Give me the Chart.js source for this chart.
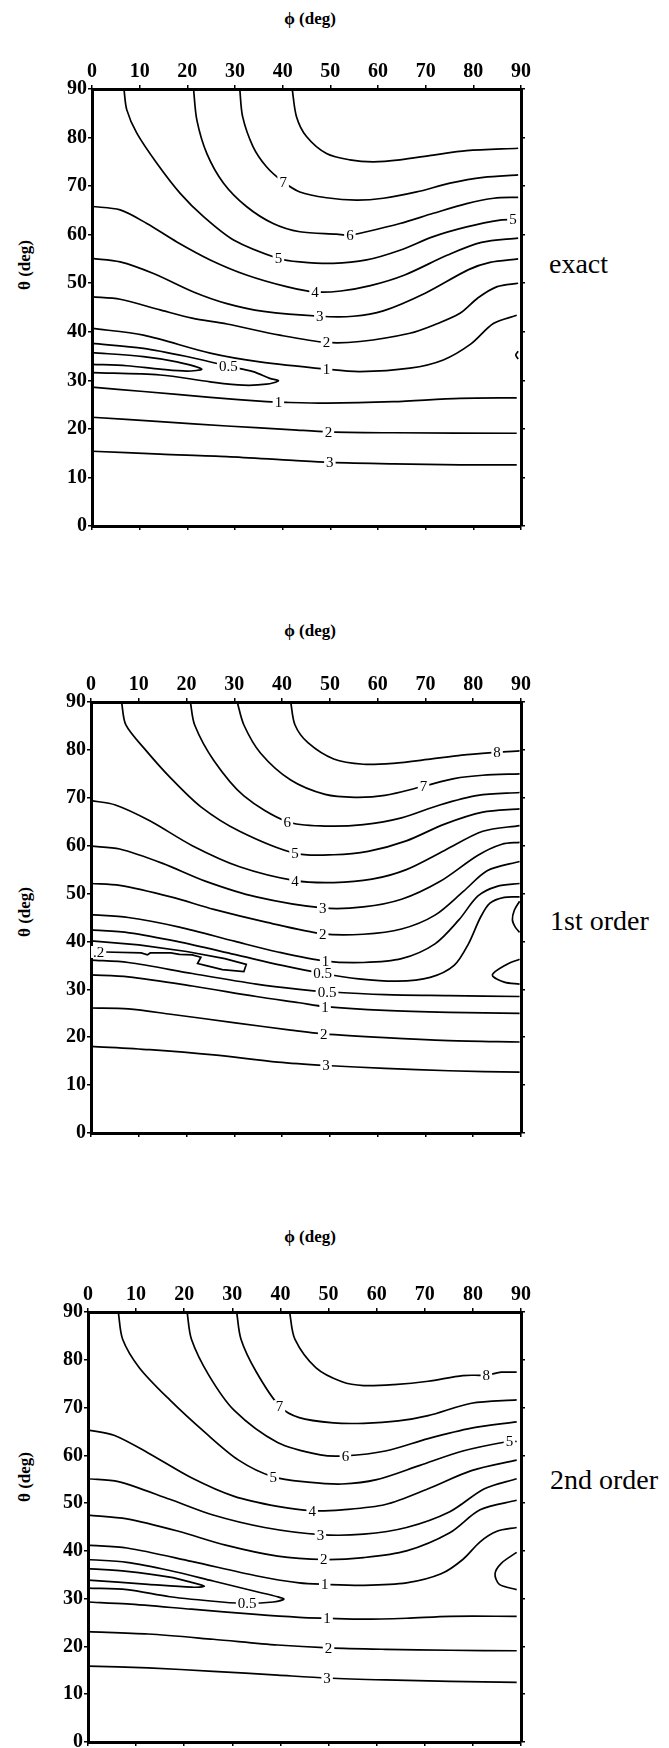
<!DOCTYPE html>
<html>
<head>
<meta charset="utf-8">
<script src="https://cdn.jsdelivr.net/npm/chart.js@4.4.1/dist/chart.umd.min.js"></script>
<style>
    body { margin: 0; background: #fff; width: 669px; height: 1748px; overflow: hidden; position: relative; font-family: 'Liberation Serif', serif; }
    canvas { position: absolute; left: 0; }
    .phi { position: absolute; width: 120px; margin-left: -60px; text-align: center; font-size: 17px; font-weight: bold; }
    .theta { position: absolute; width: 80px; margin-left: -40px; margin-top: -10px; text-align: center; font-size: 17px; font-weight: bold; transform: rotate(-90deg); }
    .side { position: absolute; font-size: 28px; line-height: 28px; margin-top: -14px; }
</style>
</head>
<body>

<div class="phi" style="left:310px;top:9px">ϕ (deg)</div>
<div class="theta" style="left:25px;top:265px">θ (deg)</div>
<div class="side" style="left:549px;top:264px">exact</div>
<canvas id="exact" width="669" height="491" style="top:49px"></canvas>

<div class="phi" style="left:310px;top:621px">ϕ (deg)</div>
<div class="theta" style="left:25px;top:912px">θ (deg)</div>
<div class="side" style="left:550px;top:921px">1st order</div>
<canvas id="first" width="669" height="485" style="top:662px"></canvas>

<div class="phi" style="left:310px;top:1227px">ϕ (deg)</div>
<div class="theta" style="left:25px;top:1477px">θ (deg)</div>
<div class="side" style="left:550px;top:1480px">2nd order</div>
<canvas id="second" width="669" height="484" style="top:1272px"></canvas>

<script>
    // tick values (deg)
    const phiTicks = [0, 10, 20, 30, 40, 50, 60, 70, 80, 90];
    const thetaTicks = [0, 10, 20, 30, 40, 50, 60, 70, 80, 90];

    // ---- exact : contour lines [phi, theta] ----
    const ex8 = [[42,90],[42.9,84.3],[45,80.2],[49.2,76.7],[54.1,75.4],[59,75],[64.6,75.4],[71.6,76.4],[78.6,77.3],[89.4,77.8]];
    const ex7 = [[31,90],[31.6,84.3],[33.8,78.1],[36.6,74],[40.1,70.9],[43.6,68.8],[49.2,67.6],[55.5,67.1],[61.1,67.5],[68.1,68.8],[75.1,70.6],[82.1,71.8],[89.4,72.3]];
    const ex6 = [[21.3,90],[22,83.6],[24.1,76.7],[27.6,70.6],[32.4,65.8],[38,62.3],[43.6,60.6],[51.3,60.1],[54.1,59.9],[57.6,60.6],[64.6,62.3],[71.6,64.4],[78.6,66.4],[84.3,67.5],[89.4,67.7]];
    const ex5 = [[6.7,90],[7.3,85.7],[9.4,80.9],[13.6,74.7],[18.5,68.5],[23.4,63.7],[29.7,58.9],[39.1,55.1],[43.6,54.4],[50.6,54.1],[57.6,54.8],[64.6,56.8],[71.6,59.6],[78.6,61.6],[85.6,63],[89.4,63.2]];
    const ex4 = [[0,65.8],[5.9,65.1],[11.5,62.3],[17.8,58.5],[24.8,54.8],[32.4,51.7],[40.8,49.3],[46.8,48.2],[52.2,48.4],[58.4,49.5],[65.6,51.7],[74.6,55.8],[81.7,58.4],[89.4,59.3]];
    const ex3 = [[0,55.1],[5.9,54.4],[12.9,52],[21.3,48.2],[28.3,45.8],[36,44.2],[47.8,43.2],[54.8,43.2],[61.1,44.3],[70,48],[79,52.8],[83.5,54.3],[89.4,55]];
    const ex2 = [[0,47.2],[5.9,46.7],[14.3,44.5],[21,42.8],[28.3,41.6],[39.4,39.3],[49.2,37.8],[56.2,38],[66.7,39.7],[72,41.5],[77.2,43.8],[81,47],[85,49.3],[89.4,50]];
    const ex1 = [[0,40.7],[10.8,39.3],[24.8,35.6],[35.2,33.8],[49.2,32.3],[56.2,31.8],[66.7,32.5],[73.7,34.2],[79.5,37.5],[84.2,41.7],[89.1,43.4]];
    const ex05 = [[0,37.6],[10.8,36.6],[19.9,34.9],[28.6,32.9],[33.8,31.8],[37.3,30.4],[39.1,29.9],[36.6,29.2],[31.7,29],[24.8,29.7],[14.3,31.1],[0,31.6]];
    const exIn = [[0,35.7],[10.8,34.9],[17.8,33.8],[23,32.3],[19.9,31.9],[14.3,32.3],[7.3,33],[0,33.3]];
    const exFrag = [[89.4,36],[88.9,35.2],[89.4,34.4]];
    const ex1b = [[0,28.6],[10.8,27.7],[24.8,26.5],[36.6,25.6],[39.1,25.5],[49.2,25.3],[63.2,25.6],[77.2,26.3],[89.1,26.4]];
    const ex2b = [[0,22.4],[14.3,21.5],[28.3,20.6],[42.2,19.8],[49.6,19.4],[63.2,19.2],[89.1,19.1]];
    const ex3b = [[0,15.4],[14.3,14.8],[28.3,14.3],[42.2,13.5],[49.9,13.1],[63.2,12.8],[77.2,12.6],[89.1,12.6]];
    const exLabels = [['7',40.1,70.9],['6',54.1,59.9],['5',39.1,55.1],['5',88.3,63.2],['4',46.8,48.2],['3',47.8,43.2],['2',49.2,37.8],['1',49.2,32.3],['0.5',28.6,32.9],['1',39.1,25.5],['2',49.6,19.4],['3',49.9,13.1]];

    // ---- 1st order ----
    const fo8 = [[41.8,90],[42.7,85.2],[45.4,81.5],[50.8,78.1],[57,77],[63.3,77.2],[70.5,78],[77.6,78.9],[85,79.5],[89.7,79.8]];
    const fo7 = [[30.6,90],[32,85.2],[35.5,79.3],[41.8,73.7],[49,70.7],[55.2,70.1],[61.5,70.5],[69.6,72.4],[76,74],[82,74.7],[89.7,75]];
    const fo6 = [[20.8,90],[21.7,85.2],[25.7,77.8],[32,70.4],[41.1,65],[49,64.1],[57,64.4],[65,65.8],[73,68.5],[81,70.5],[89.7,71.1]];
    const fo5 = [[6.4,90],[7.3,85.2],[11.4,80],[16.7,74.1],[23,68.1],[31.1,63],[42.7,58.4],[50.8,58.1],[58,58.8],[66,61],[74,64.5],[82,67],[89.7,67.7]];
    const fo4 = [[0,69.4],[5.1,68.5],[12.3,65.2],[21.2,60],[31.1,55.6],[42.7,52.7],[50.8,52.3],[58.8,53],[66,55],[74,59],[82,63],[89.7,64.2]];
    const fo3 = [[0,59.9],[6,59.3],[15,56.3],[23.9,52.6],[34.6,49.3],[48.5,47],[57,47.2],[65,48.8],[73,52.5],[81,58],[86,60.3],[89.7,60.7]];
    const fo2 = [[0,52.1],[6,51.7],[16.7,49.3],[25.7,46.7],[36.4,44.1],[48.5,41.6],[57,41.5],[65,42.6],[72,45.5],[78,50.5],[83,54.8],[89.7,56.7]];
    const fo1 = [[0,45.6],[7.8,45],[18.5,43],[30.2,40],[39.1,37.8],[49.1,35.9],[57,35.6],[65,36.4],[72,39.5],[77,44.5],[81,49.5],[85,51.5],[89.7,52.1]];
    const fo05 = [[0,42.4],[8,41.8],[18,40],[30,37.3],[40,35],[48.5,33.3],[56,32.2],[64,31.7],[71,32.5],[76,35],[79,39.5],[81.5,45],[83.5,48],[86.5,49.2],[89.7,49.3]];
    const fo02 = [[0,40.1],[10,39.3],[20,37.9],[28,36.4],[32.5,35.2],[32,33.7],[27.5,34.1],[23.9,35],[22.3,35.4],[23,36.7],[21.2,37.2],[18.5,37.3],[16.7,37.6],[12.4,37.6],[11.8,37.2],[10.5,37.6],[2.9,37.8],[0,37.8]];
    const foR1 = [[89.7,48.4],[88.6,46.5],[88.2,44.5],[88.8,43],[89.7,41.9]];
    const foR2 = [[89.7,36.3],[87,35.2],[84,33],[86.5,31.5],[89.7,31.1]];
    const fo05b = [[0,36.1],[7.8,35.6],[21.2,33.3],[34.6,31.1],[43.6,30],[49.4,29.5],[61.5,28.9],[74.9,28.7],[89.7,28.5]];
    const fo1b = [[0,33],[7.8,32.6],[21.2,30.7],[34.6,28.5],[43.6,27.2],[49,26.4],[61.5,25.6],[74.9,25.2],[89.7,25]];
    const fo2b = [[0,26.1],[7.8,25.9],[16.7,24.8],[30.2,23],[41.8,21.5],[48.7,20.7],[61.5,19.9],[74.9,19.3],[89.7,19]];
    const fo3b = [[0,18.1],[12.3,17.4],[25.7,16.3],[39.1,14.8],[49.2,14.1],[61.5,13.5],[74.9,13],[89.7,12.7]];
    const foLabels = [['8',85,79.5],['7',69.6,72.4],['6',41.1,65],['5',42.7,58.4],['4',42.7,52.7],['3',48.5,47],['2',48.5,41.6],['1',49.1,35.9],['0.5',48.5,33.3],['0.5',49.4,29.5],['1',49,26.4],['2',48.7,20.7],['3',49.2,14.1],['.2',1.6,37.8]];

    // ---- 2nd order ----
    const so8 = [[41.9,90],[43,84.3],[47.4,78.3],[52.8,75.4],[57.3,74.6],[63.6,74.8],[70.7,75.5],[77.9,76.7],[82.8,76.8],[85.9,77.4],[89.1,77.4]];
    const so7 = [[30.9,90],[31.8,84.3],[34.9,77.6],[39.8,70.3],[43.9,67.9],[51,66.8],[57.3,66.7],[64.5,67.2],[70.7,68.3],[79.7,70.9],[89.1,71.6]];
    const so6 = [[20.6,90],[21.5,84.3],[25.1,76.8],[30.4,69.4],[39.4,62.7],[48.3,60.1],[53.5,59.9],[61.8,60.9],[70.7,63.5],[79.7,65.7],[89.1,67]];
    const so5 = [[6.3,90],[7.2,84.3],[10.7,78.3],[17,71.6],[24.2,64.9],[31.3,59],[38.5,55.5],[45.7,54.4],[52.8,54],[60,54.9],[69,57.9],[77.9,60.9],[87.3,62.9],[89.1,62.9]];
    const so4 = [[0,65.3],[5.4,64.2],[12.5,60.5],[21.5,55.3],[30.4,51.4],[39.4,49.3],[46.6,48.4],[52.8,48.6],[61.8,49.7],[70.7,53],[79.7,56.8],[89.1,59]];
    const so3 = [[0,55.1],[6.3,54.5],[17,50.8],[26,47.5],[36.7,44.9],[48.3,43.4],[57.3,43.5],[66.2,44.9],[75.2,48.2],[82.4,53],[89.1,55.1]];
    const so2 = [[0,47.5],[8.1,46.7],[18.8,44.1],[28.6,41.2],[39.4,38.9],[49,38.2],[57.3,38.6],[66.2,40],[75.2,43.8],[81.5,48.6],[89.1,50.6]];
    const so1 = [[0,41.2],[8.1,40.6],[21.5,37.8],[34.9,34.8],[43.9,33.3],[49.2,33],[57.3,32.8],[66.2,33.3],[73.4,35.2],[77.9,38.2],[81.5,41.9],[85,44.1],[89.1,44.9]];
    const soR = [[89.1,39.7],[85.9,37.4],[84.6,35.2],[85.5,33],[89.1,31.9]];
    const so05 = [[0,38.2],[8.1,37.6],[17,35.9],[26,33.7],[34.9,31.5],[39.4,30.4],[40.7,29.9],[38.5,29.3],[33.1,29],[27.8,29.3],[17,30.4],[8.1,31.9],[0,32.2]];
    const soIn = [[0,36.3],[8.1,35.7],[17,34.5],[21.5,33.4],[24.2,32.6],[21.5,32.4],[12.5,33],[0,33.9]];
    const so1b = [[0,29.3],[8.1,28.9],[21.5,27.8],[34.9,26.7],[43.9,26.1],[49.7,25.9],[57.3,25.7],[66.2,25.9],[75.2,26.3],[89.1,26.3]];
    const so2b = [[0,23.1],[12.5,22.6],[26,21.5],[39.4,20.3],[50,19.7],[61.8,19.4],[75.2,19.2],[89.1,19.1]];
    const so3b = [[0,15.9],[12.5,15.5],[26,14.8],[39.4,14],[49.7,13.4],[61.8,13],[75.2,12.7],[89.1,12.5]];
    const soLabels = [['8',82.8,76.8],['7',39.8,70.3],['6',53.5,59.9],['5',38.5,55.5],['5',87.6,62.9],['4',46.6,48.4],['3',48.3,43.4],['2',49,38.2],['1',49.2,33],['0.5',33.1,29],['1',49.7,25.9],['2',50,19.7],['3',49.7,13.4]];

    // numbers written on the contour lines
    const contourLabels = {
        id: 'contourLabels',
        afterDatasetsDraw(chart, args, opts) {
            const ctx = chart.ctx;
            const xs = chart.scales.x, ys = chart.scales.y;
            ctx.save();
            ctx.font = '15px "Liberation Serif"';
            ctx.textAlign = 'center';
            ctx.textBaseline = 'middle';
            opts.items.forEach(([t, px, py]) => {
                const x = xs.getPixelForValue(px);
                const y = ys.getPixelForValue(py);
                const w = ctx.measureText(t).width + 4;
                ctx.fillStyle = '#fff';
                ctx.fillRect(x - w / 2, y - 6, w, 12);
                ctx.fillStyle = '#000';
                ctx.fillText(t, x, y + 1);
            });
            ctx.restore();
        }
    };

    function toDataset(pts, jagged) {
        return {
            data: pts.map(p => ({ x: p[0], y: p[1] })),
            showLine: true,
            borderColor: '#000',
            borderWidth: 1.7,
            pointRadius: 0,
            tension: jagged ? 0 : 0.3,
            fill: false
        };
    }

    const tickFont = { family: 'Liberation Serif', size: 20, weight: 'bold' };
    const edge = { display: true, color: '#000', width: 3 };

    function makePanel(id, leftW, lines, labels, jaggedIdx) {
        const ctx = document.getElementById(id).getContext('2d');
        new Chart(ctx, {
            type: 'scatter',
            data: { datasets: lines.map((l, i) => toDataset(l, i === jaggedIdx)) },
            options: {
                responsive: false,
                animation: false,
                events: [],
                devicePixelRatio: 1,
                layout: { padding: { left: 0, top: 0, right: 138, bottom: 4 } },
                plugins: {
                    legend: { display: false },
                    tooltip: { enabled: false },
                    contourLabels: { items: labels }
                },
                scales: {
                    x: {
                        type: 'linear', position: 'top', min: 0, max: 90,
                        afterBuildTicks: s => { s.ticks = phiTicks.map(v => ({ value: v })); },
                        afterFit: s => { s.height = 40; },
                        ticks: { font: tickFont, color: '#000', padding: 1, maxRotation: 0 },
                        grid: { display: true, drawOnChartArea: false, color: '#000', lineWidth: 1.5, tickLength: 4 },
                        border: edge
                    },
                    x2: {
                        type: 'linear', position: 'bottom', min: 0, max: 90,
                        afterBuildTicks: s => { s.ticks = phiTicks.map(v => ({ value: v })); },
                        afterFit: s => { s.height = 10; },
                        ticks: { display: false },
                        grid: { display: true, drawOnChartArea: false, color: '#000', lineWidth: 1.5, tickLength: 4 },
                        border: edge
                    },
                    y: {
                        type: 'linear', position: 'left', min: 0, max: 90,
                        afterBuildTicks: s => { s.ticks = thetaTicks.map(v => ({ value: v })); },
                        afterFit: s => { s.width = leftW; },
                        ticks: { font: tickFont, color: '#000', padding: 1 },
                        grid: { display: true, drawOnChartArea: false, color: '#000', lineWidth: 1.5, tickLength: 4 },
                        border: edge
                    },
                    y2: {
                        type: 'linear', position: 'right', min: 0, max: 90,
                        afterBuildTicks: s => { s.ticks = thetaTicks.map(v => ({ value: v })); },
                        afterFit: s => { s.width = 10; },
                        ticks: { display: false },
                        grid: { display: true, drawOnChartArea: false, color: '#000', lineWidth: 1.5, tickLength: 4 },
                        border: edge
                    }
                }
            },
            plugins: [contourLabels]
        });
    }

    makePanel('exact', 92,
        [ex8, ex7, ex6, ex5, ex4, ex3, ex2, ex1, ex05, exIn, exFrag, ex1b, ex2b, ex3b],
        exLabels, -1);
    makePanel('first', 91,
        [fo8, fo7, fo6, fo5, fo4, fo3, fo2, fo1, fo05, fo02, foR1, foR2, fo05b, fo1b, fo2b, fo3b],
        foLabels, 9);
    makePanel('second', 88,
        [so8, so7, so6, so5, so4, so3, so2, so1, soR, so05, soIn, so1b, so2b, so3b],
        soLabels, -1);
</script>
</body>
</html>
